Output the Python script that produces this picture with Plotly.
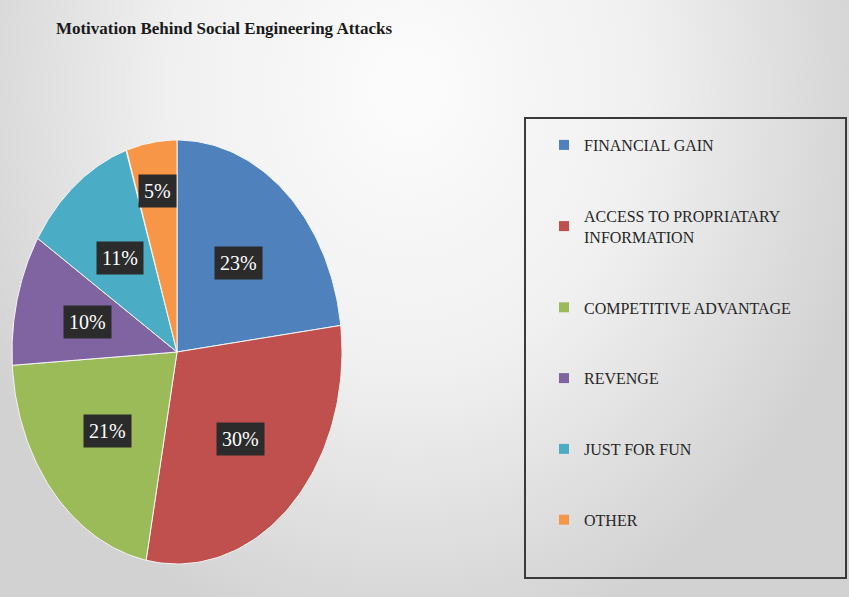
import base64
import numpy as np
import plotly.graph_objects as go

# ---- data ----
categories = ["FINANCIAL GAIN", "ACCESS TO PROPRIATARY<br>INFORMATION", "COMPETITIVE ADVANTAGE",
              "REVENGE", "JUST FOR FUN", "OTHER"]
values = [23, 30, 21, 10, 11, 5]
labels = ["23%", "30%", "21%", "10%", "11%", "5%"]
colors = ["#4F81BD", "#C0504D", "#9BBB59", "#8064A2", "#4BACC6", "#F79646"]

W, H = 849, 597
# ellipse geometry in pixels (layout only)
cx, cy, rx, ry = 177, 352, 165, 212
pad = 1.02

fig = go.Figure()
total = float(sum(values))
cum = np.concatenate([[0.0], np.cumsum(values)]) / total
for i, v in enumerate(values):
    t = np.linspace(cum[i], cum[i + 1], 80) * 2 * np.pi
    xs = np.concatenate([[0.0], np.sin(t), [0.0]])
    ys = np.concatenate([[0.0], np.cos(t), [0.0]])
    fig.add_trace(go.Scatter(x=xs, y=ys, fill="toself", fillcolor=colors[i], mode="lines",
                             line=dict(color="#f4f4f4", width=1), showlegend=False,
                             hoverinfo="text", text=categories[i]))

# legend entries
for i, c in enumerate(categories):
    fig.add_trace(go.Scatter(x=[None], y=[None], mode="markers", name=c, legendgroup=f"g{i}",
                             marker=dict(symbol="square", size=10, color=colors[i])))

# data labels
for i, v in enumerate(values):
    mid = (cum[i] + cum[i + 1]) / 2 * 2 * np.pi
    f = 0.77 if v / total < 0.08 else 0.56
    fig.add_annotation(x=f * np.sin(mid), y=f * np.cos(mid), text=labels[i], showarrow=False,
                       font=dict(family="Liberation Serif", size=20, color="white"),
                       bgcolor="#2b2b2b", borderpad=5, xref="x", yref="y")

# background gradient (style only)
svg = ('<svg xmlns="http://www.w3.org/2000/svg" width="849" height="597">'
       '<defs><radialGradient id="g" cx="0.48" cy="0.15" r="0.56" '
       'gradientTransform="translate(0.48,0.15) scale(1,1.7) translate(-0.48,-0.15)">'
       '<stop offset="0" stop-color="#fcfcfc"/><stop offset="0.5" stop-color="#f0f0f0"/>'
       '<stop offset="1" stop-color="#d2d2d2"/></radialGradient></defs>'
       '<rect width="849" height="597" fill="url(#g)"/></svg>')
bg_src = "data:image/svg+xml;base64," + base64.b64encode(svg.encode()).decode()

fig.update_layout(
    width=W, height=H,
    margin=dict(l=0, r=0, t=0, b=0),
    paper_bgcolor="#e6e6e6", plot_bgcolor="rgba(0,0,0,0)",
    images=[dict(source=bg_src, xref="paper", yref="paper", x=0, y=1, sizex=1, sizey=1,
                 xanchor="left", yanchor="top", sizing="stretch", layer="below")],
    xaxis=dict(visible=False, range=[-pad, pad], fixedrange=True,
               domain=[(cx - rx * pad) / W, (cx + rx * pad) / W]),
    yaxis=dict(visible=False, range=[-pad, pad], fixedrange=True,
               domain=[1 - (cy + ry * pad) / H, 1 - (cy - ry * pad) / H]),
    title=dict(text="<b>Motivation Behind Social Engineering Attacks</b>",
               x=224 / W, xanchor="center", y=1 - 28 / H, yanchor="middle",
               font=dict(family="Liberation Serif", size=17, color="#1a1a1a")),
    legend=dict(x=544 / W, xanchor="left", y=1 - 128 / H, yanchor="top",
                bgcolor="rgba(0,0,0,0)", borderwidth=0, tracegroupgap=47,
                font=dict(family="Liberation Serif", size=16, color="#262626"),
                itemwidth=30),
    shapes=[dict(type="rect", xref="paper", yref="paper",
                 x0=525 / W, x1=846 / W, y0=1 - 578 / H, y1=1 - 118 / H,
                 line=dict(color="#3a3a3a", width=2), fillcolor="rgba(0,0,0,0)", layer="below")],
    showlegend=True,
)

fig.write_html("out.html", config={"displayModeBar": False},
               post_script="document.body.style.margin='0';")
